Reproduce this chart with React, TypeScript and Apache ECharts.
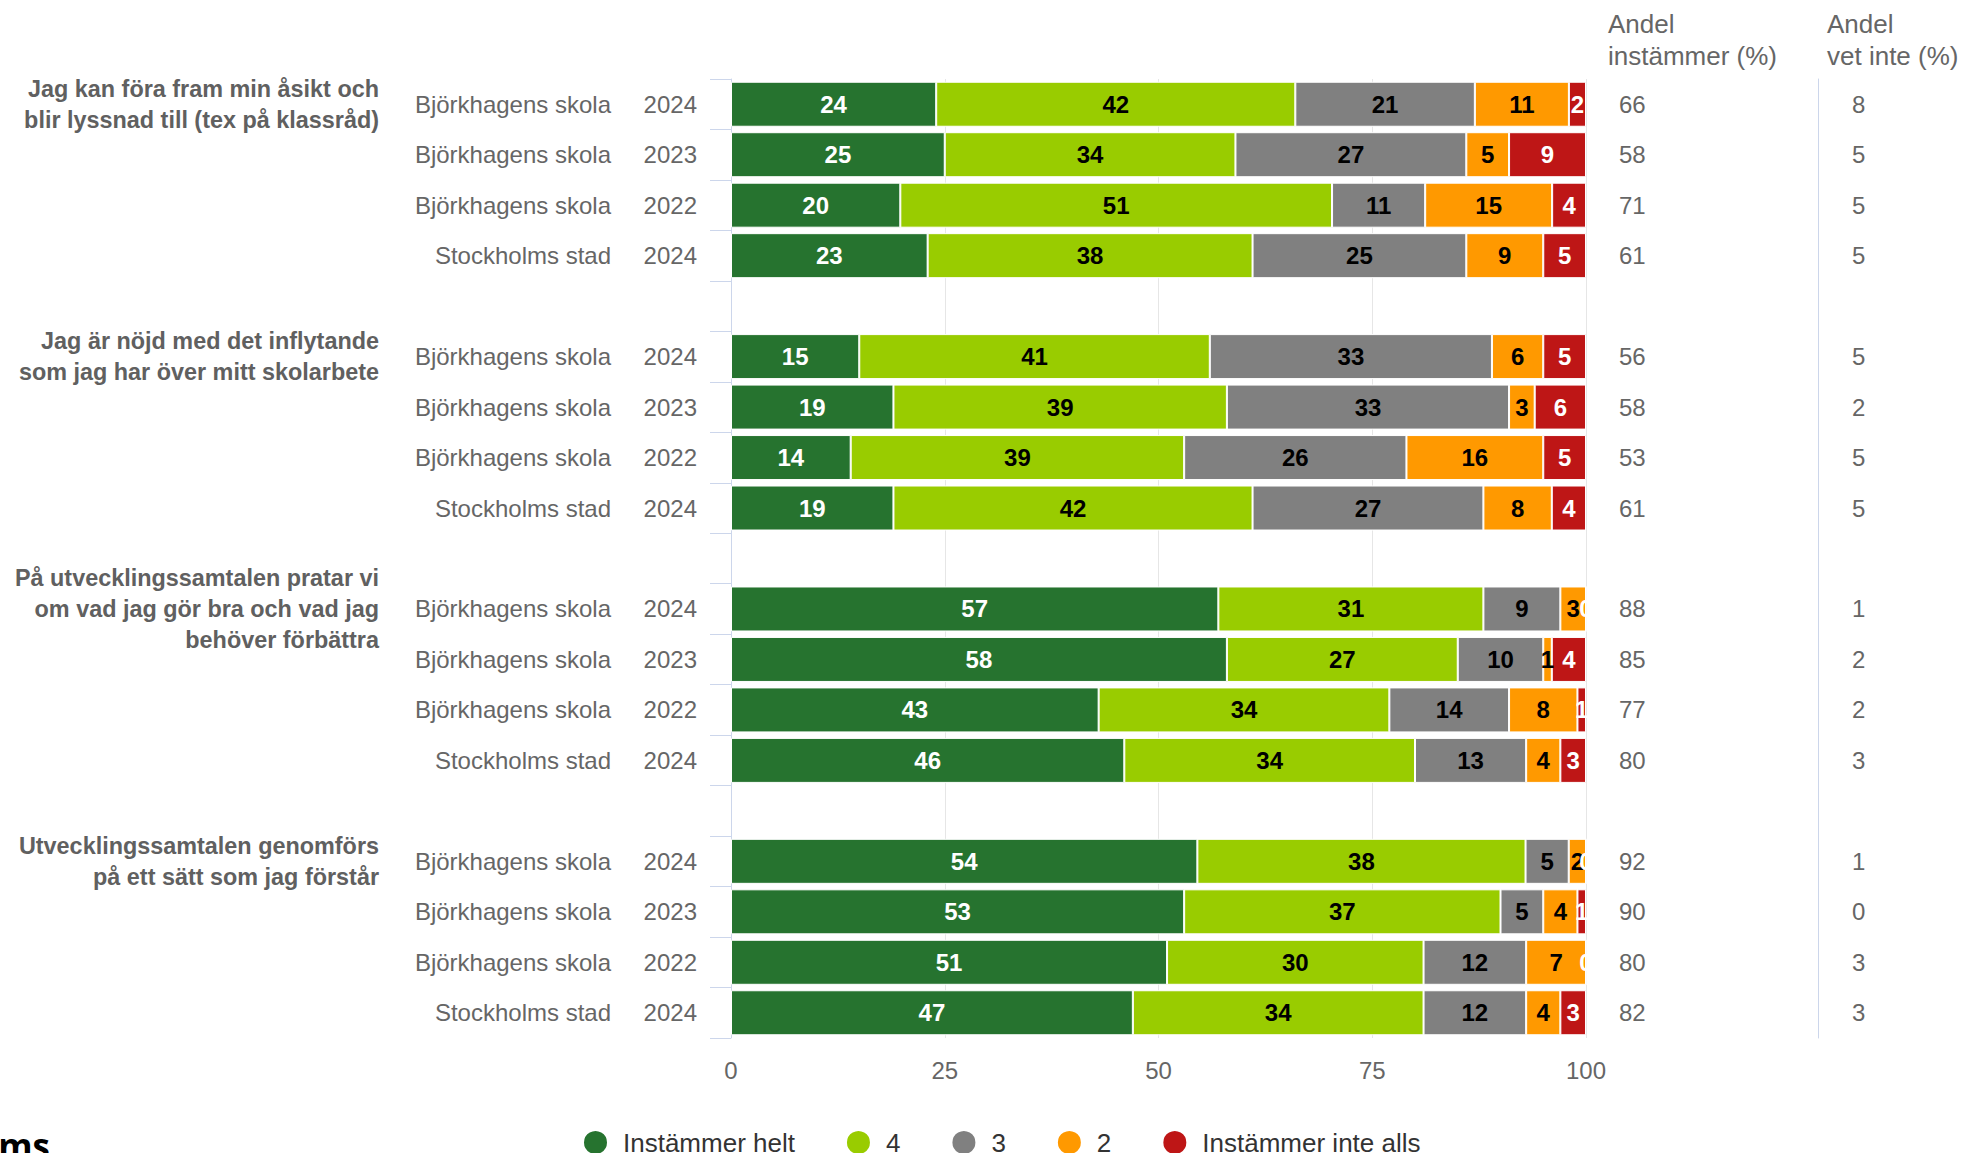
import React, { useEffect, useRef } from "react";
import * as echarts from "echarts";

const questions = [
  "Jag kan föra fram min åsikt och\nblir lyssnad till (tex på klassråd)",
  "Jag är nöjd med det inflytande\nsom jag har över mitt skolarbete",
  "På utvecklingssamtalen pratar vi\nom vad jag gör bra och vad jag\nbehöver förbättra",
  "Utvecklingssamtalen genomförs\npå ett sätt som jag förstår",
];
const rowSchools = ["Björkhagens skola", "Björkhagens skola", "Björkhagens skola", "Stockholms stad"];
const rowYears = ["2024", "2023", "2022", "2024"];

const seriesNames = ["Instämmer helt", "4", "3", "2", "Instämmer inte alls"];
const seriesColors = ["#26732f", "#99cc00", "#808080", "#ff9900", "#be1616"];
const labelColors = ["#ffffff", "#000000", "#000000", "#000000", "#ffffff"];

const instammerHelt = [24, 25, 20, 23, 15, 19, 14, 19, 57, 58, 43, 46, 54, 53, 51, 47];
const varde4 = [42, 34, 51, 38, 41, 39, 39, 42, 31, 27, 34, 34, 38, 37, 30, 34];
const varde3 = [21, 27, 11, 25, 33, 33, 26, 27, 9, 10, 14, 13, 5, 5, 12, 12];
const varde2 = [11, 5, 15, 9, 6, 3, 16, 8, 3, 1, 8, 4, 2, 4, 7, 4];
const instammerInteAlls = [2, 9, 4, 5, 5, 6, 5, 4, 0, 4, 1, 3, 0, 1, 0, 3];

const andelInstammer = [66, 58, 71, 61, 56, 58, 53, 61, 88, 85, 77, 80, 92, 90, 80, 82];
const andelVetInte = [8, 5, 5, 5, 5, 2, 5, 5, 1, 2, 2, 3, 1, 0, 3, 3];

const xTicks = { min: 0, max: 100, interval: 25 };
const headerInstammer = "Andel\ninstämmer (%)";
const headerVetInte = "Andel\nvet inte (%)";

const FONT = "'Liberation Sans', Arial, Helvetica, sans-serif";

export default function App() {
  const ref = useRef<HTMLDivElement>(null);

  useEffect(() => {
    if (!ref.current) return;
    const chart = echarts.init(ref.current, undefined, { renderer: "svg" });

    const raw = [instammerHelt, varde4, varde3, varde2, instammerInteAlls];

    // category slots: 4 rows per question, one empty slot between questions
    const rowOf: (number | null)[] = [];
    const groupLabelAt: string[] = [];
    questions.forEach((q, qi) => {
      rowSchools.forEach((_, ri) => {
        rowOf.push(qi * rowSchools.length + ri);
        groupLabelAt.push(ri === 0 ? q : "");
      });
      if (qi < questions.length - 1) {
        rowOf.push(null);
        groupLabelAt.push("");
      }
    });
    const catIds = rowOf.map((_, i) => String(i));
    const rowSums = instammerHelt.map((_, r) => raw.reduce((a, arr) => a + arr[r], 0));

    const series = raw.map((arr, si) => ({
      name: seriesNames[si],
      type: "bar",
      stack: "total",
      barWidth: 45,
      itemStyle: { color: seriesColors[si], borderColor: "#ffffff", borderWidth: 1 },
      label: {
        show: true,
        position: "inside",
        fontFamily: FONT,
        fontSize: 24,
        fontWeight: "bold",
        color: labelColors[si],
        textBorderWidth: 0,
        formatter: (p: any) => {
          const r = rowOf[p.dataIndex];
          return r == null ? "" : String(arr[r]);
        },
      },
      emphasis: { disabled: true },
      data: rowOf.map((r) => (r == null ? "-" : (arr[r] / rowSums[r]) * 100)),
    }));

    const option: any = {
      animation: false,
      textStyle: { fontFamily: FONT },
      grid: { left: 731, right: 376, top: 79, bottom: 115, containLabel: false },
      legend: {
        data: seriesNames,
        left: 577,
        top: 1124,
        icon: "circle",
        itemWidth: 25,
        itemHeight: 25,
        itemGap: 50,
        textStyle: { fontFamily: FONT, fontSize: 26, color: "#333333", padding: [0, 0, 0, 10] },
      },
      xAxis: {
        type: "value",
        min: xTicks.min,
        max: xTicks.max,
        interval: xTicks.interval,
        axisLine: { show: false },
        axisTick: { show: false },
        splitLine: { show: true, lineStyle: { color: "#e6e6e6", width: 1 } },
        axisLabel: { fontFamily: FONT, fontSize: 24, color: "#666666", margin: 20 },
      },
      yAxis: [
        {
          type: "category",
          inverse: true,
          data: catIds,
          axisLine: { show: true, lineStyle: { color: "#ccd6eb", width: 1 } },
          axisTick: { show: true, length: 21, interval: 0, lineStyle: { color: "#ccd6eb", width: 1 } },
          axisLabel: {
            interval: 0,
            margin: 34,
            formatter: (_v: string, i: number) => {
              const r = rowOf[i];
              if (r == null) return "";
              const ri = r % rowSchools.length;
              return `{s|${rowSchools[ri]}}{y|${rowYears[ri]}}`;
            },
            rich: {
              s: { fontFamily: FONT, fontSize: 24, color: "#666666", width: 220, align: "right" },
              y: { fontFamily: FONT, fontSize: 24, color: "#666666", width: 86, align: "right" },
            },
          },
        },
        {
          type: "category",
          inverse: true,
          position: "left",
          offset: 352,
          data: catIds,
          axisLine: { show: false },
          axisTick: { show: false },
          axisLabel: {
            interval: 0,
            margin: 0,
            fontFamily: FONT,
            fontSize: 23.4,
            fontWeight: "bold",
            lineHeight: 31,
            color: "#606060",
            align: "right",
            formatter: (_v: string, i: number) => groupLabelAt[i],
          },
        },
        {
          type: "category",
          inverse: true,
          position: "right",
          offset: 0,
          data: catIds,
          axisLine: { show: false },
          axisTick: { show: false },
          axisLabel: {
            interval: 0,
            margin: 33,
            fontFamily: FONT,
            fontSize: 24,
            color: "#666666",
            formatter: (_v: string, i: number) => {
              const r = rowOf[i];
              return r == null ? "" : String(andelInstammer[r]);
            },
          },
        },
        {
          type: "category",
          inverse: true,
          position: "right",
          offset: 232,
          data: catIds,
          axisLine: { show: true, lineStyle: { color: "#ccd6eb", width: 1 } },
          axisTick: { show: false },
          axisLabel: {
            interval: 0,
            margin: 34,
            fontFamily: FONT,
            fontSize: 24,
            color: "#666666",
            formatter: (_v: string, i: number) => {
              const r = rowOf[i];
              return r == null ? "" : String(andelVetInte[r]);
            },
          },
        },
      ],
      graphic: [
        {
          type: "text",
          left: 1608,
          top: 8,
          style: { text: headerInstammer, fontFamily: FONT, fontSize: 26, lineHeight: 32, fill: "#666666" },
        },
        {
          type: "text",
          left: 1827,
          top: 8,
          style: { text: headerVetInte, fontFamily: FONT, fontSize: 26, lineHeight: 32, fill: "#666666" },
        },
        {
          type: "text",
          x: 50,
          y: 1145,
          style: {
            text: "Stockholms",
            fontFamily: "'Open Sans', sans-serif",
            fontSize: 35,
            fontWeight: "bold",
            fill: "#000000",
            align: "right",
            verticalAlign: "middle",
          },
        },
      ],
      series,
    };

    chart.setOption(option);
    return () => chart.dispose();
  }, []);

  return (
    <div
      ref={ref}
      style={{ position: "fixed", left: 0, top: 0, width: 1962, height: 1153, background: "#ffffff" }}
    />
  );
}
